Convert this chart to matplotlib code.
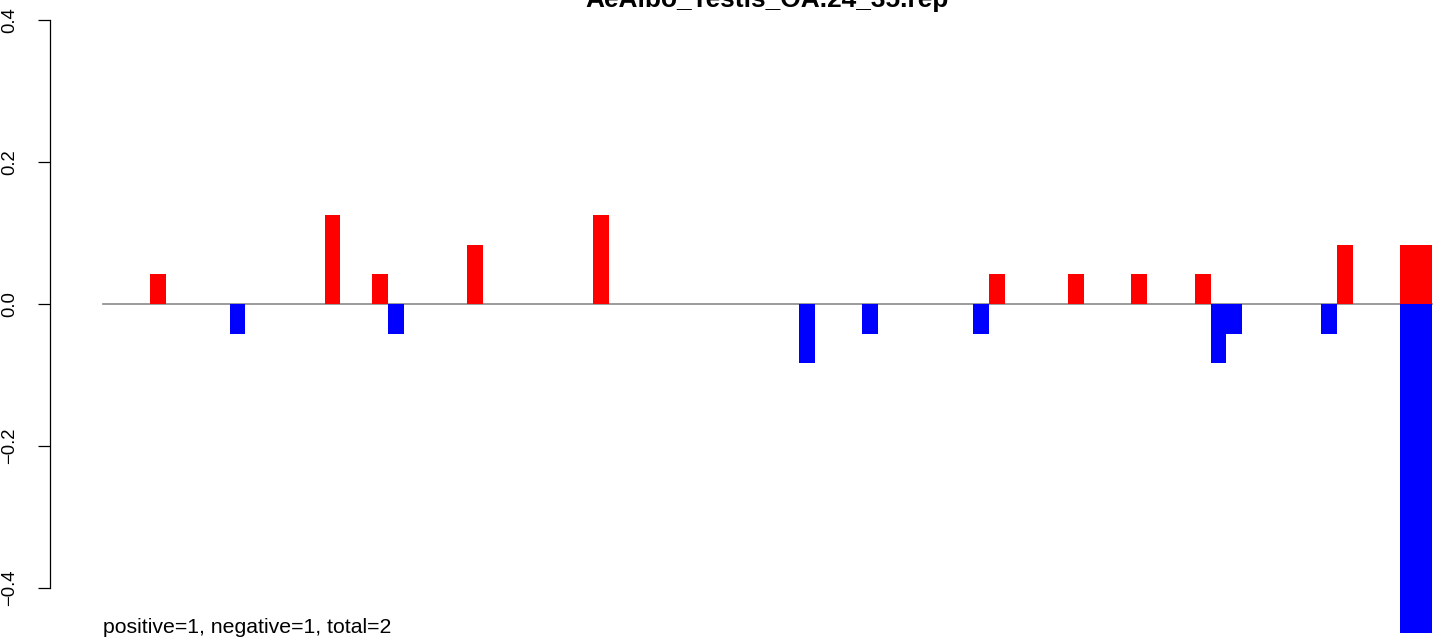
import numpy as np
import matplotlib
matplotlib.use("Agg")
from matplotlib import pyplot as plt

plt.rcParams['font.family'] = ['Liberation Sans', 'DejaVu Sans']

title = "AeAlbo_Testis_OA.24_35.rep"
note = "positive=1, negative=1, total=2"
n_pos = 84

red_pos = [3, 14, 17, 23, 31, 56, 61, 65, 69, 78, 82, 83]
red_val = [0.0417, 0.125, 0.0417, 0.0833, 0.125, 0.0417, 0.0417, 0.0417,
           0.0417, 0.0833, 0.0833, 0.0833]
blue_pos = [8, 18, 44, 48, 55, 70, 71, 77, 82, 83]
blue_val = [-0.0417, -0.0417, -0.0833, -0.0417, -0.0417, -0.0833, -0.0417,
            -0.0417, -0.463, -0.463]
yticks = [-0.4, -0.2, 0.0, 0.2, 0.4]

W, H = 1441, 639
fig = plt.figure(figsize=(W / 100, H / 100), dpi=100)
ax = fig.add_axes([50 / W, 0, 1 - 50 / W, 1])

# pixel geometry of the original: x=0 at 103px, 15.82px per position,
# y=0 at 304px, 710px per unit
unit_x = 1329 / n_pos
ax.set_xlim((50 - 103) / unit_x, (W - 103) / unit_x)
ax.set_ylim(-(H - 304) / 710, 304 / 710)

ax.plot([0, n_pos], [0, 0], color='#8a8a8a', lw=1.2, zorder=1)
ax.bar(red_pos, red_val, width=1, align='edge', color='#ff0000',
       linewidth=0, zorder=2)
ax.bar(blue_pos, blue_val, width=1, align='edge', color='#0000ff',
       linewidth=0, zorder=2)

for s in ['top', 'right', 'bottom']:
    ax.spines[s].set_visible(False)
ax.spines['left'].set_bounds(-0.4, 0.4)
ax.spines['left'].set_linewidth(0.9)
ax.set_xticks([])
ax.set_yticks(yticks)
ax.set_yticklabels([('%.1f' % v).replace('-', '\u2212') for v in yticks])
ax.tick_params(axis='y', length=9, width=0.9, pad=14, labelsize=13.3,
               labelrotation=90)
for lab in ax.get_yticklabels():
    lab.set_va('center')
ax.patch.set_visible(False)

fig.text(767.5 / W, 1 - 7 / H, title, ha='center', va='baseline',
         fontsize=18.9, fontweight='bold')
fig.text(103 / W, 1 - 633 / H, note, ha='left', va='baseline', fontsize=15.3)

fig.savefig("out.png", dpi=100)
